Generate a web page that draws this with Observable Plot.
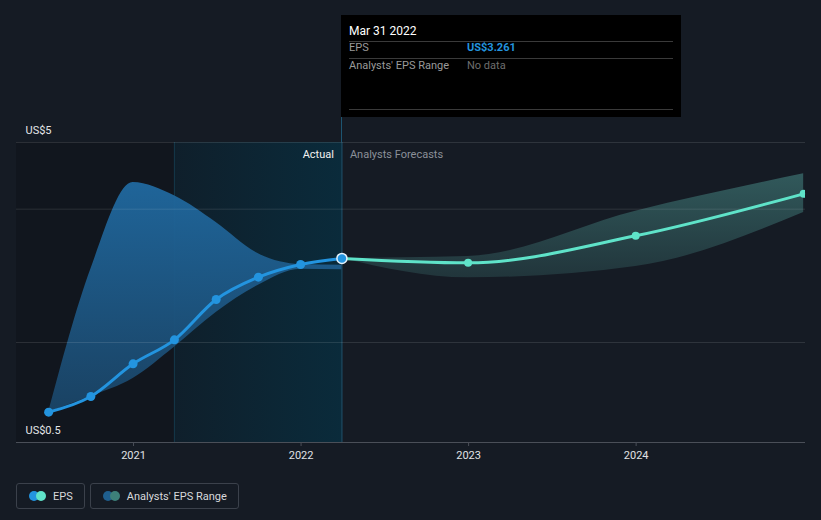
<!DOCTYPE html>
<html><head><meta charset="utf-8">
<script src="https://cdn.jsdelivr.net/npm/d3@7"></script>
<script src="https://cdn.jsdelivr.net/npm/@observablehq/plot@0.6"></script>
<style>
html,body{margin:0;padding:0;background:#151b24;}
body{width:821px;height:520px;overflow:hidden;font-family:Roboto,"Noto Sans",sans-serif;position:relative;}
#chart{position:absolute;left:0;top:0;}
.tip{position:absolute;background:#000;top:15px;width:340px;height:102px;font-size:11px;}
.tip .row{position:absolute;left:8px;right:8px;height:16px;line-height:16px;}
.tip .sep{position:absolute;left:8px;right:8px;height:1px;background:#3a3a3a;}
.tip .val{position:absolute;left:118px;top:0;}
.conn{position:absolute;width:1px;background:#1d5571;top:117px;height:25px;}
.legend{position:absolute;top:483px;left:16px;display:flex;gap:5px;}
.item{box-sizing:border-box;border:1px solid #3b414b;border-radius:3px;height:26px;padding:0 11px 0 12px;display:flex;align-items:center;color:#d7d9dc;font-size:11px;}
.dots{position:relative;width:17px;height:10px;margin-right:7px;}
.dots span{position:absolute;top:0;width:10px;height:10px;border-radius:50%;}
</style></head>
<body>
<div id="chart"></div>
<script>
// ---- data ----
const actualDates = ["2020-06-30","2020-09-30","2020-12-31","2021-03-31","2021-06-30","2021-09-30","2021-12-31","2022-03-31"];
const actualEps   = [0.955, 1.19, 1.68, 2.04, 2.645, 2.98, 3.17, 3.261];
const pastRangeHigh = [0.955, 3.1, 4.4, 4.2, 3.8, 3.33, 3.17, 3.16];
const pastRangeLow  = [0.955, 1.19, 1.46, 1.93, 2.45, 2.86, 3.1, 3.09];
const forecastDates = ["2022-03-31","2022-12-31","2023-12-31","2024-12-31"];
const forecastEps   = [3.261, 3.195, 3.6, 4.23];
const forecastHigh  = [3.261, 3.29, 3.97, 4.53];
const forecastLow   = [3.261, 2.97, 3.14, 3.95];
const xTickLabels = ["2021","2022","2023","2024"];
const yGrid = [5, 4, 2];
const yLabels = [5, 0.5];
const domainStart = "2020-04-21", domainEnd = "2025-01-04";
const pastYearStart = "2021-03-31", lastActual = "2022-03-31";

const D = s => new Date(s);
const actual = actualDates.map((d,i)=>({date:D(d), eps:actualEps[i], hi:pastRangeHigh[i], lo:pastRangeLow[i]}));
const forecast = forecastDates.map((d,i)=>({date:D(d), eps:forecastEps[i], hi:forecastHigh[i], lo:forecastLow[i]}));

const defs = () => {
  const g = d3.create("svg:defs");
  const a = g.append("linearGradient").attr("id","hl").attr("x1",0).attr("x2",1).attr("y1",0).attr("y2",0);
  a.append("stop").attr("offset","0").attr("stop-color","#0f1f2b");
  a.append("stop").attr("offset","1").attr("stop-color","#0a2b3b");
  const b = g.append("linearGradient").attr("id","blueband").attr("x1",0).attr("x2",0).attr("y1",0).attr("y2",1);
  b.append("stop").attr("offset","0").attr("stop-color","#2069a0");
  b.append("stop").attr("offset","1").attr("stop-color","#1a4466");
  const c = g.append("linearGradient").attr("id","tealband").attr("x1",0).attr("x2",0).attr("y1",0).attr("y2",1);
  c.append("stop").attr("offset","0").attr("stop-color","#31595b");
  c.append("stop").attr("offset","1").attr("stop-color","#21353b");
  return g.node();
};

const chart = Plot.plot({
  width: 821, height: 470,
  marginTop: 142, marginBottom: 28, marginLeft: 16, marginRight: 16,
  style: {background: "transparent", fontFamily: "Roboto, 'Noto Sans', sans-serif", fontSize: "11px"},
  x: {type: "utc", domain: [D(domainStart), D(domainEnd)], label: null, axis: null},
  y: {domain: [0.5, 5], axis: null},
  marks: [
    defs,
    Plot.rect([0], {x1: D(domainStart), x2: D(pastYearStart), fill: "#11161e"}),
    Plot.rect([0], {x1: D(pastYearStart), x2: D(lastActual), fill: "url(#hl)"}),
    Plot.ruleX([D(pastYearStart)], {stroke: "#15384a"}),
    Plot.ruleX([D(lastActual)], {stroke: "#1d5571"}),
    Plot.areaY(actual, {x: "date", y1: "lo", y2: "hi", fill: "url(#blueband)", fillOpacity: 0.95, curve: "monotone-x"}),
    Plot.areaY(forecast, {x: "date", y1: "lo", y2: "hi", fill: "url(#tealband)", curve: "monotone-x", clip: true}),
    Plot.ruleY(yGrid, {stroke: "#ffffff", strokeOpacity: 0.11}),
    Plot.ruleY([0.5], {stroke: "#4a4f58"}),
    Plot.text(yLabels, {y: d=>d, text: d=>"US$"+d, frameAnchor: "left", textAnchor: "start", dx: 9, dy: -12, fill: "#e4e6e8", fontSize: 11}),
    Plot.text(["Actual"], {x: D(lastActual), y: 5, text: d=>d, textAnchor: "end", dx: -8, dy: 12, fill: "#f2f2f2", fontSize: 11}),
    Plot.text(["Analysts Forecasts"], {x: D(lastActual), y: 5, text: d=>d, textAnchor: "start", dx: 8, dy: 12, fill: "#8b9099", fontSize: 11}),
    Plot.line(forecast, {x: "date", y: "eps", stroke: "#5fe3c9", strokeWidth: 3, curve: "monotone-x"}),
    Plot.dot(forecast.slice(1), {x: "date", y: "eps", r: 4, fill: "#5fe3c9", clip: true}),
    Plot.line(actual, {x: "date", y: "eps", stroke: "#2394df", strokeWidth: 3, curve: "monotone-x"}),
    Plot.dot(actual.slice(0,-1), {x: "date", y: "eps", r: 4.5, fill: "#2394df"}),
    Plot.dot(actual.slice(-1), {x: "date", y: "eps", r: 5, fill: "#2394df", stroke: "#e6f2fb", strokeWidth: 1.5}),
    Plot.axisX({ticks: xTickLabels.map(y=>D(y+"-01-01")), tickFormat: d=>String(d.getUTCFullYear()), tickSize: 4, tickPadding: 5, stroke: "#4a4f58", fill: "#e0e2e5", fontSize: 11, label: null})
  ]
});
document.getElementById("chart").appendChild(chart);

const xs = chart.scale("x").apply(D(lastActual));
const tip = document.createElement("div");
tip.className = "tip";
tip.style.left = Math.round(xs) + "px";
tip.innerHTML = `
  <div class="row" style="top:8px;color:#fff;font-size:12px;">Mar 31 2022</div>
  <div class="sep" style="top:26px;"></div>
  <div class="row" style="top:25px;color:#9a9a9a;">EPS<span class="val" style="color:#2394df;font-weight:bold;">US$3.261</span></div>
  <div class="sep" style="top:43px;"></div>
  <div class="row" style="top:43px;color:#9a9a9a;">Analysts' EPS Range<span class="val" style="color:#6e6e6e;">No data</span></div>
  <div class="sep" style="top:94px;"></div>`;
document.body.appendChild(tip);
const conn = document.createElement("div");
conn.className = "conn";
conn.style.left = Math.round(xs) + "px";
document.body.appendChild(conn);

const legend = document.createElement("div");
legend.className = "legend";
legend.innerHTML = `
  <div class="item"><div class="dots"><span style="left:0;background:#2394df"></span><span style="left:7px;background:#5fe3c9"></span></div>EPS</div>
  <div class="item"><div class="dots"><span style="left:0;background:#1f5f8e"></span><span style="left:7px;background:#3d8079"></span></div>Analysts' EPS Range</div>`;
document.body.appendChild(legend);
</script>
</body></html>
